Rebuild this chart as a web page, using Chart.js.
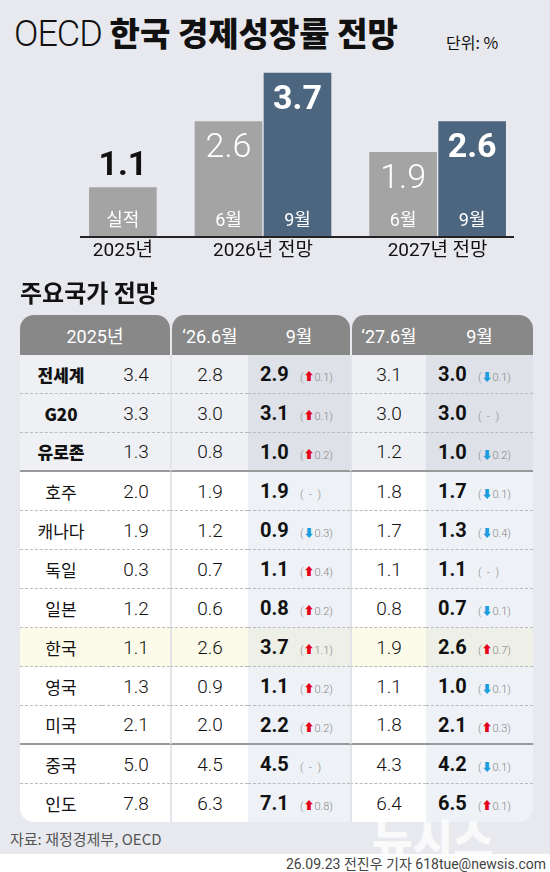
<!DOCTYPE html>
<html><head><meta charset="utf-8">
<script src="https://cdn.jsdelivr.net/npm/chart.js@4"></script>
<style>
body{margin:0;width:550px;height:872px;background:#e8e9ee;font-family:"Roboto","Noto Sans CJK KR",sans-serif;position:relative;overflow:hidden;color:#111}
.abs{position:absolute}
#title{left:14px;top:8px;font-size:36px;font-weight:300;letter-spacing:-1px}
#title b{font-family:"Noto Sans CJK KR";font-weight:900;font-size:33px;letter-spacing:0}
#unit{left:446px;top:30px;font-size:16px;font-family:"Noto Sans CJK KR"}
#chartBox{left:0;top:60px;width:550px;height:215px}
#sub{left:20px;top:274px;font-size:24px;font-family:"Noto Sans CJK KR";font-weight:700}
table{position:absolute;left:20px;top:315px;width:513px;border-collapse:separate;border-spacing:0;font-size:19px;text-align:center;table-layout:fixed}
th{background:#888;color:#fff;font-weight:normal;height:40px;padding:0;font-size:18px}
td{height:38px;padding:0;border-bottom:1px dashed #bbb;background:#fff;font-weight:300}
td.sep{border-left:2px solid #e3e4e8}
tr.hi td{background:#eef0f3}
tr.hi td.nine{background:#dee1e7}
td.nine{background:#eef1f6;text-align:left;padding-left:12px}
tr.kr td{background:#fcfbea}
tr.kr td.nine{background:#eeefe6}
tr.solid td{border-bottom:2px solid #999;height:37px}
tr.last td{border-bottom:none}
tr.last td:first-child{border-bottom-left-radius:14px}
tr.last td:last-child{border-bottom-right-radius:14px}
td.name{font-family:"Noto Sans CJK KR";font-size:17px;font-weight:400}
tr.hi td.name{font-weight:900}
.v9{font-weight:bold;font-size:20px;display:inline-block;width:40px}
.ch{font-size:11px;color:#888}
.up{color:#e3001b}.dn{color:#1a9ee0}
#src{left:10px;top:828px;font-size:15px;color:#555;font-family:"Noto Sans CJK KR"}
#wm{left:372px;top:806px;font-size:44px;font-weight:900;color:#fff;opacity:.8;font-family:"Noto Sans CJK KR"}
#foot{left:0;top:854px;width:550px;height:18px;background:#fff}
#by{right:4px;top:853px;font-size:14px;color:#444}
</style></head><body>
<div id="title" class="abs">OECD <b>한국 경제성장률 전망</b></div>
<div id="unit" class="abs">단위: %</div>
<div id="chartBox" class="abs"><canvas id="c" width="550" height="215"></canvas></div>
<div id="sub" class="abs">주요국가 전망</div>
<table id="t"></table>
<div id="src" class="abs">자료: 재정경제부, OECD</div>
<div id="wm" class="abs">뉴시스</div>
<div id="foot" class="abs"></div>
<div id="by" class="abs">26.09.23 전진우 기자 618tue@newsis.com</div>
<script>
// Korea growth bars
const groups = ["2025년", "2026년 전망", "2027년 전망"]
const barGroup = [0, 1, 1, 2, 2]
const barLabels = ["실적", "6월", "9월", "6월", "9월"]
const barValues = [1.1, 2.6, 3.7, 1.9, 2.6]
const barColors = ["#a4a4a4", "#a4a4a4", "#4d6680", "#a4a4a4", "#4d6680"]

// table data
const countries = ["전세계", "G20", "유로존", "호주", "캐나다", "독일", "일본", "한국", "영국", "미국", "중국", "인도"]
const y2025 = [3.4, 3.3, 1.3, 2.0, 1.9, 0.3, 1.2, 1.1, 1.3, 2.1, 5.0, 7.8]
const y26jun = [2.8, 3.0, 0.8, 1.9, 1.2, 0.7, 0.6, 2.6, 0.9, 2.0, 4.5, 6.3]
const y26sep = [2.9, 3.1, 1.0, 1.9, 0.9, 1.1, 0.8, 3.7, 1.1, 2.2, 4.5, 7.1]
const y27jun = [3.1, 3.0, 1.2, 1.8, 1.7, 1.1, 0.8, 1.9, 1.1, 1.8, 4.3, 6.4]
const y27sep = [3.0, 3.0, 1.0, 1.7, 1.3, 1.1, 0.7, 2.6, 1.0, 2.1, 4.2, 6.5]

// bar x positions: bars in a group touch, groups separated
const xs = []
let pos = 0
barGroup.forEach((g, i) => {
  if (i > 0) pos += barGroup[i] === barGroup[i - 1] ? 1 : 1.53
  xs.push(pos)
})
const groupCenters = groups.map((_, g) => {
  const p = xs.filter((_, i) => barGroup[i] === g)
  return (p[0] + p[p.length - 1]) / 2
})

const labelPlugin = {
  id: "labels",
  afterDatasetsDraw(chart) {
    const ctx = chart.ctx
    const meta = chart.getDatasetMeta(0)
    const base = chart.scales.y.getPixelForValue(0)
    ctx.textAlign = "center"
    meta.data.forEach((b, i) => {
      const first = i === 0
      const dark = barColors[i] !== "#a4a4a4"
      ctx.fillStyle = first ? "#111" : "#fff"
      ctx.font = (first || dark ? "bold " : "300 ") + "34px Roboto"
      ctx.textBaseline = first ? "bottom" : "top"
      ctx.fillText(barValues[i].toFixed(1), b.x, first ? b.y - 4 : b.y + 10)
      ctx.fillStyle = "#fff"
      ctx.font = "18px Roboto, 'Noto Sans CJK KR'"
      ctx.textBaseline = "bottom"
      ctx.fillText(barLabels[i], b.x, base - 6)
    })
    ctx.fillStyle = "#111"
    ctx.font = "19px Roboto, 'Noto Sans CJK KR'"
    ctx.textBaseline = "top"
    groups.forEach((g, i) => {
      ctx.fillText(g, chart.scales.x.getPixelForValue(groupCenters[i]), base + 6)
    })
    ctx.strokeStyle = "#222"
    ctx.lineWidth = 2
    ctx.beginPath()
    ctx.moveTo(80, base + 1)
    ctx.lineTo(514, base + 1)
    ctx.stroke()
  }
}

new Chart(document.getElementById("c"), {
  type: "bar",
  data: {
    datasets: [{
      data: barValues.map((v, i) => ({ x: xs[i], y: v })),
      backgroundColor: barColors,
      barThickness: 67,
    }],
  },
  options: {
    responsive: false,
    animation: false,
    layout: { padding: { left: 78, right: 33, top: 0, bottom: 39 } },
    scales: {
      x: { type: "linear", offset: false, min: -0.65, max: xs[xs.length - 1] + 0.65, display: false },
      y: { min: 0, max: 4.0, display: false },
    },
    plugins: { legend: { display: false }, tooltip: { enabled: false } },
  },
  plugins: [labelPlugin],
})

function change(a, b) {
  const d = Math.round((b - a) * 10) / 10
  if (d === 0) return '<span class="ch">(&nbsp;&nbsp;-&nbsp;&nbsp;)</span>'
  const up = d > 0
  return '<span class="ch">(<span class="' + (up ? "up" : "dn") + '">' + (up ? "⬆" : "⬇") + "</span>" + Math.abs(d).toFixed(1) + ")</span>"
}

let html = '<colgroup><col style="width:82px"><col style="width:68px"><col style="width:78px"><col style="width:102px"><col style="width:76px"><col></colgroup>' +
  '<tr><th colspan="2" style="border-top-left-radius:14px;border-top-right-radius:14px">2025년</th>' +
  '<th style="border-top-left-radius:14px;border-left:2px solid #e8e9ee">&lsquo;26.6월</th><th style="border-top-right-radius:14px">9월</th>' +
  '<th style="border-top-left-radius:14px;border-left:2px solid #e8e9ee">&lsquo;27.6월</th><th style="border-top-right-radius:14px">9월</th></tr>'
countries.forEach((c, i) => {
  const cls = [i < 3 ? "hi" : "", c === "한국" ? "kr" : "", i === 2 || i === 9 ? "solid" : "", i === countries.length - 1 ? "last" : ""].join(" ")
  html += '<tr class="' + cls + '"><td class="name">' + c + '</td><td>' + y2025[i].toFixed(1) +
    '</td><td class="sep">' + y26jun[i].toFixed(1) +
    '</td><td class="nine"><span class="v9">' + y26sep[i].toFixed(1) + "</span>" + change(y26jun[i], y26sep[i]) +
    '</td><td class="sep">' + y27jun[i].toFixed(1) +
    '</td><td class="nine"><span class="v9">' + y27sep[i].toFixed(1) + "</span>" + change(y27jun[i], y27sep[i]) + "</td></tr>"
})
document.getElementById("t").innerHTML = html
</script>
</body></html>
